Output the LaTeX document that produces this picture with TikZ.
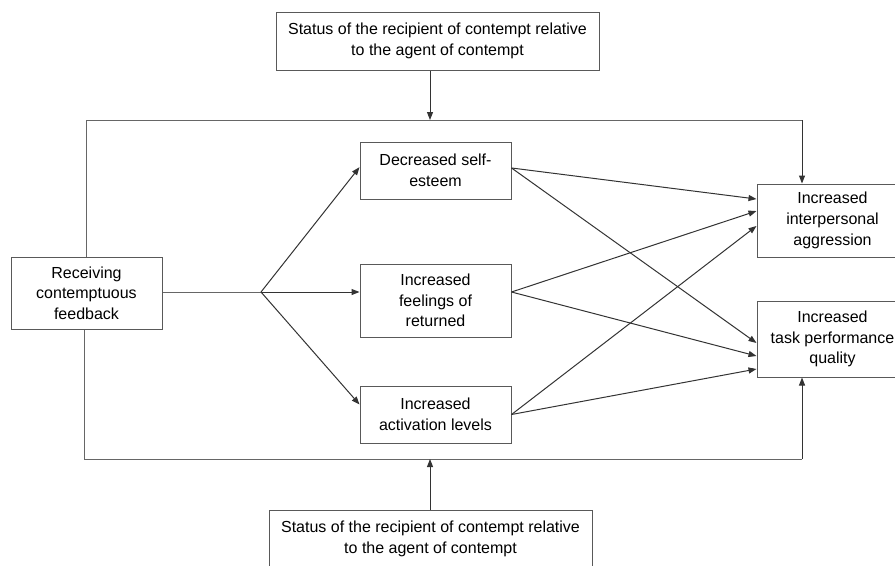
\documentclass[tikz,border=0pt]{standalone}
\usepackage{fontspec}
\setmainfont{Liberation Sans}
\usetikzlibrary{arrows.meta,calc}

\tikzset{every picture/.style={line width=0.75pt}}
\tikzset{
  box/.style={draw=black!65, rectangle, align=center, inner sep=0.75pt, minimum width=113.25pt, font=\fontsize{12}{15.5}\selectfont},
  wide box/.style={box, minimum width=242.25pt, minimum height=43.5pt},
  link/.style={draw=black!60},
  arr/.style={draw=black!80, -{Triangle[length=6pt,width=4.5pt]}}
}

\begin{document}
\begin{tikzpicture}[x=0.75pt,y=0.75pt,yscale=-1,xscale=1]
\useasboundingbox (0,0) rectangle (895,565);
\clip (0,0) rectangle (895,565);
%Shape: Rectangle [id:moderator top]
\node (stattop) at (437.5,41) [wide box] {Status of the recipient of contempt relative\\to the agent of contempt};
%Shape: Rectangle [id:moderator bottom]
\node (statbot) at (430.5,539) [wide box] {Status of the recipient of contempt relative\\to the agent of contempt};
%Shape: Rectangle [id:receiving]
\node (recv) at (86.5,293) [box, minimum height=54pt] {Receiving\\contemptuous\\feedback};
%Shape: Rectangle [id:mediators]
\node (esteem) at (435.5,170.5) [box, minimum height=42.75pt] {Decreased self-\\esteem};
\node (feel) at (435.5,300.5) [box, minimum height=54.75pt] {Increased\\feelings of\\returned};
\node (activ) at (435.5,414.5) [box, minimum height=42.75pt] {Increased\\activation levels};
%Shape: Rectangle [id:outcomes]
\node (aggr) at (832.5,220.5) [box, minimum height=54.75pt] {Increased\\interpersonal\\aggression};
\node (task) at (832.5,339) [box, minimum height=57pt] {Increased\\task performance\\quality};
%Coordinates of the bends
\coordinate (tj) at (430,120);
\coordinate (tr) at (802,120);
\coordinate (bl) at (84,459);
\coordinate (bj) at (430,459);
\coordinate (br) at (802,459);
\coordinate (fork) at (261,292);
%Straight Lines [id:loop top]
\draw [link] (recv.north) |- (tr);
\draw [arr] (tr) -- (aggr.north -| tr);
\draw [arr] (stattop.south -| tj) -- (tj);
%Straight Lines [id:loop bottom]
\draw [link] (recv.south -| bl) |- (br);
\draw [arr] (br) -- (task.south -| br);
\draw [arr] (statbot.north -| bj) -- (bj);
%Straight Lines [id:fork]
\draw [link] (recv.east |- fork) -- (fork);
\draw [arr] (fork) -- ([yshift=-2.5pt]esteem.west);
\draw [arr] (fork) -- (feel.west |- fork);
\draw [arr] (fork) -- ([yshift=-7.5pt]activ.west);
%Straight Lines [id:to outcomes]
\draw [arr] ([yshift=-1.9pt]esteem.east) -- ([yshift=-16.1pt]aggr.west);
\draw [arr] ([yshift=-1.9pt]esteem.east) -- ([yshift=3pt]task.west);
\draw [arr] (feel.east |- fork) -- ([yshift=-7.1pt]aggr.west);
\draw [arr] (feel.east |- fork) -- ([yshift=12.75pt]task.west);
\draw [arr] (activ.east) -- ([yshift=4.1pt]aggr.west);
\draw [arr] (activ.east) -- ([yshift=22.5pt]task.west);
\end{tikzpicture}
\end{document}
